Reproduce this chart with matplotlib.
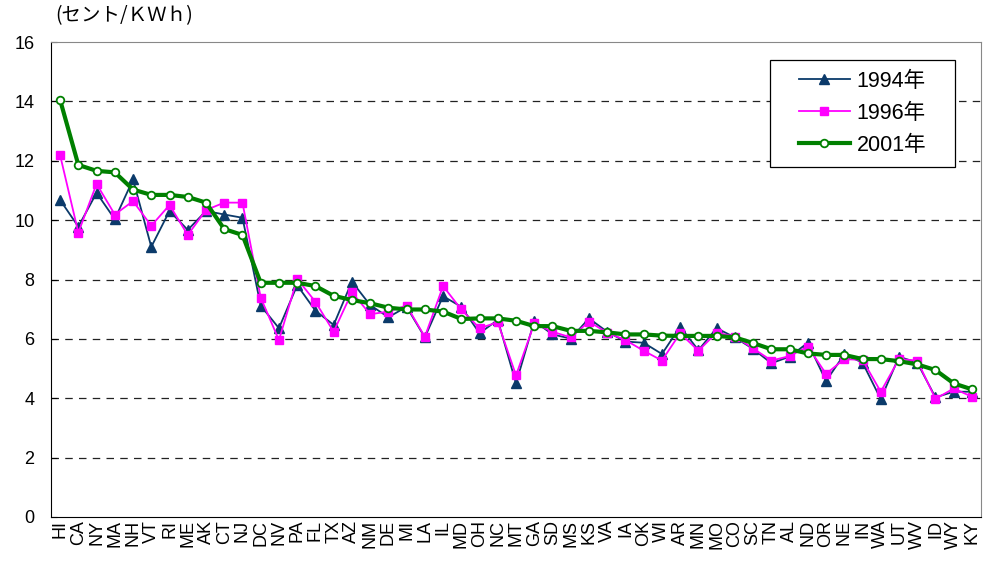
import matplotlib.pyplot as plt
from matplotlib.patches import Rectangle

plt.rcParams['font.family'] = ['Liberation Sans', 'Noto Sans CJK JP', 'DejaVu Sans']

# ---------- DATA ----------
states = ["HI", "CA", "NY", "MA", "NH", "VT", "RI", "ME", "AK", "CT", "NJ", "DC", "NV",
          "PA", "FL", "TX", "AZ", "NM", "DE", "MI", "LA", "IL", "MD", "OH", "NC", "MT",
          "GA", "SD", "MS", "KS", "VA", "IA", "OK", "WI", "AR", "MN", "MO", "CO", "SC",
          "TN", "AL", "ND", "OR", "NE", "IN", "WA", "UT", "WV", "ID", "WY", "KY"]

y1994 = [10.68, 9.78, 10.92, 10.03, 11.37, 9.10, 10.31, 9.67, 10.31, 10.19, 10.08, 7.12, 6.36,
         7.81, 6.95, 6.47, 7.93, 7.14, 6.73, 7.08, 6.05, 7.44, 7.08, 6.19, 6.64, 4.50,
         6.60, 6.15, 6.01, 6.69, 6.24, 5.91, 5.87, 5.49, 6.41, 5.62, 6.36, 6.05, 5.66,
         5.18, 5.40, 5.87, 4.58, 5.48, 5.20, 3.97, 5.40, 5.20, 4.03, 4.22, 4.22]

y1996 = [12.19, 9.58, 11.22, 10.19, 10.64, 9.81, 10.51, 9.50, 10.34, 10.59, 10.59, 7.39, 5.96,
         8.02, 7.25, 6.24, 7.57, 6.83, 6.92, 7.12, 6.07, 7.78, 6.99, 6.36, 6.56, 4.77,
         6.52, 6.24, 6.05, 6.58, 6.21, 5.96, 5.60, 5.27, 6.19, 5.60, 6.21, 6.08, 5.68,
         5.27, 5.42, 5.74, 4.82, 5.32, 5.29, 4.22, 5.32, 5.27, 3.98, 4.33, 4.05]

y2001 = [14.05, 11.86, 11.66, 11.61, 11.03, 10.85, 10.85, 10.78, 10.59, 9.70, 9.50, 7.89, 7.89,
         7.89, 7.78, 7.45, 7.31, 7.20, 7.05, 6.99, 6.99, 6.92, 6.67, 6.69, 6.69, 6.61,
         6.43, 6.43, 6.27, 6.27, 6.22, 6.15, 6.15, 6.11, 6.10, 6.10, 6.10, 6.05, 5.86,
         5.65, 5.65, 5.51, 5.46, 5.46, 5.32, 5.32, 5.25, 5.14, 4.95, 4.50, 4.30]

# ---------- PLOT ----------
fig = plt.figure(figsize=(9.86, 5.68), dpi=100)
ax = fig.add_axes([0.0517, 0.0898, 0.9433, 0.8362])

x = range(len(states))
ax.plot(x, y1994, color="#0B3A6A", lw=1.3, marker="^", ms=7, label="1994年")
ax.plot(x, y1996, color="#FF00FF", lw=1.3, marker="s", ms=6, label="1996年")
ax.plot(x, y2001, color="#008000", lw=3, marker="o", ms=5.5,
        markerfacecolor="white", markeredgecolor="#008000", markeredgewidth=1.3, label="2001年")

ax.set_xlim(-0.5, len(states) - 0.5)
ax.set_ylim(0, 16)
ax.set_yticks(range(0, 17, 2))
ax.set_xticks(list(x))
ax.set_xticklabels(states, rotation=90, fontsize=13)
ax.tick_params(axis="y", labelsize=13, length=4, direction="in", pad=12)
ax.tick_params(axis="x", length=0, pad=2)

for v in range(2, 16, 2):
    ax.axhline(v, color="#222222", lw=0.9, ls=(0, (6, 5)), zorder=0)

for side in ["top", "right"]:
    ax.spines[side].set_color("#888888")
for side in ["left", "bottom"]:
    ax.spines[side].set_color("black")

fig.text(0.056, 0.962, "(セント/ＫＷｈ)", fontsize=14, family=['Noto Sans CJK JP', 'DejaVu Sans'])

# legend: own frame box, frameless legend centred inside
box = Rectangle((0.773, 0.737), 0.199, 0.225, transform=ax.transAxes,
                facecolor="white", edgecolor="black", lw=0.9, zorder=5)
ax.add_patch(box)
leg = ax.legend(loc="center", bbox_to_anchor=(0.8725, 0.85), frameon=False,
                handlelength=2.4, labelspacing=0.5, handletextpad=0.3,
                prop={"family": ['Liberation Sans', 'Noto Sans CJK JP'], "size": 15.5})
leg.set_zorder(6)

fig.savefig("out.png", dpi=100)
